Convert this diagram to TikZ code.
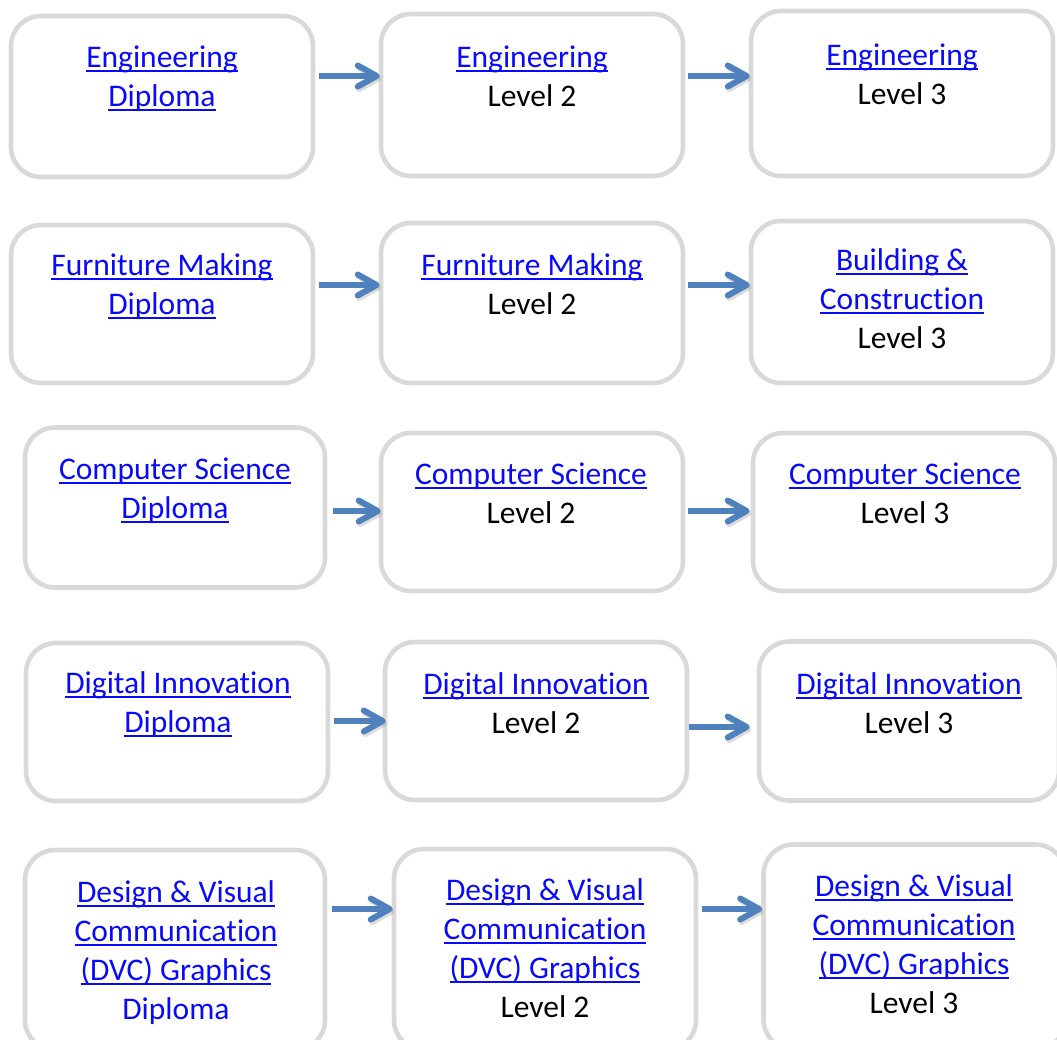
\documentclass[tikz,border=0pt]{standalone}
\usepackage{fontspec}
\setmainfont{Carlito}[Ligatures=NoCommon]
\usetikzlibrary{arrows.meta}
\definecolor{linkblue}{RGB}{10,10,250}
\definecolor{boxgray}{RGB}{217,217,217}
\definecolor{arrowblue}{RGB}{79,129,189}
\newcommand\lnk[1]{{\color{linkblue}\setbox0\hbox{#1}\rlap{\rule[-5.3pt]{\wd0}{1.9pt}}\box0}}
\newcommand\blu[1]{{\color{linkblue}#1}}
\newcommand\lines[1]{\begin{tabular}[t]{@{}c@{}}#1\end{tabular}}
\tikzset{
  pbox/.style={draw=boxgray, fill=white, line width=4.6pt, rounded corners=30pt, inner sep=0pt, rectangle},
  lbl/.style={inner sep=0pt, anchor=base, font=\fontsize{31.5}{39}\selectfont},
  arr/.style={draw=arrowblue, line width=5.5pt, -{Straight Barb[length=19pt,width=21pt,round,line width=6pt]},
    preaction={draw=black!45, opacity=0.3, transform canvas={xshift=1.5pt,yshift=-2.5pt}}}
}
\begin{document}
\begin{tikzpicture}[x=1pt,y=-1pt]
\useasboundingbox (0,0) rectangle (1057,1039);
\clip (0,0) rectangle (1057,1039);
% boxes
\node[pbox, minimum width=302pt, minimum height=161pt] (b11) at (162,96.5) {};
\node[pbox, minimum width=302pt, minimum height=162pt] (b12) at (532,95) {};
\node[pbox, minimum width=302pt, minimum height=165pt] (b13) at (902,93.5) {};
\node[pbox, minimum width=302pt, minimum height=158pt] (b21) at (162,304) {};
\node[pbox, minimum width=302pt, minimum height=160pt] (b22) at (532,303) {};
\node[pbox, minimum width=302pt, minimum height=162pt] (b23) at (902,302) {};
\node[pbox, minimum width=300pt, minimum height=160pt] (b31) at (175,507.5) {};
\node[pbox, minimum width=302pt, minimum height=158pt] (b32) at (532,512) {};
\node[pbox, minimum width=302pt, minimum height=158pt] (b33) at (904,512) {};
\node[pbox, minimum width=302pt, minimum height=158pt] (b41) at (177,722) {};
\node[pbox, minimum width=302pt, minimum height=158pt] (b42) at (536,721) {};
\node[pbox, minimum width=300pt, minimum height=159pt] (b43) at (909,721) {};
\node[pbox, minimum width=300pt, minimum height=200pt] (b51) at (175,950) {};
\node[pbox, minimum width=302pt, minimum height=201pt] (b52) at (545,949.5) {};
\node[pbox, minimum width=302pt, minimum height=205pt] (b53) at (914.5,947) {};
% texts
\node[lbl] (t11) at (162,67) {\lines{\lnk{Engineering}\\\lnk{Diploma}}};
\node[lbl] (t12) at (532,67) {\lines{\lnk{Engineering}\\Level 2}};
\node[lbl] (t13) at (902,65) {\lines{\lnk{Engineering}\\Level 3}};
\node[lbl] (t21) at (162,275) {\lines{\lnk{Furniture Making}\\\lnk{Diploma}}};
\node[lbl] (t22) at (532,275) {\lines{\lnk{Furniture Making}\\Level 2}};
\node[lbl] (t23) at (902,270) {\lines{\lnk{Building \&}\\\lnk{Construction}\\Level 3}};
\node[lbl] (t31) at (175,479) {\lines{\lnk{Computer Science}\\\lnk{Diploma}}};
\node[lbl] (t32) at (531,484) {\lines{\lnk{Computer Science}\\Level 2}};
\node[lbl] (t33) at (905,484) {\lines{\lnk{Computer Science}\\Level 3}};
\node[lbl] (t41) at (178,693) {\lines{\lnk{Digital Innovation}\\\lnk{Diploma}}};
\node[lbl] (t42) at (536,694) {\lines{\lnk{Digital Innovation}\\Level 2}};
\node[lbl] (t43) at (909,694) {\lines{\lnk{Digital Innovation}\\Level 3}};
\node[lbl] (t51) at (176,902) {\lines{\lnk{Design \& Visual}\\\lnk{Communication}\\\lnk{(DVC) Graphics}\\\blu{Diploma}}};
\node[lbl] (t52) at (545,900) {\lines{\lnk{Design \& Visual}\\\lnk{Communication}\\\lnk{(DVC) Graphics}\\Level 2}};
\node[lbl] (t53) at (914,896) {\lines{\lnk{Design \& Visual}\\\lnk{Communication}\\\lnk{(DVC) Graphics}\\Level 3}};
% arrows
\draw[arr, shorten <=4pt, shorten >=-1pt] (b11.east |- 0,76) -- (b12.west |- 0,76);
\draw[arr, shorten <=3pt, shorten >=-1pt] (b12.east |- 0,76) -- (b13.west |- 0,76);
\draw[arr, shorten <=4pt, shorten >=-1pt] (b21.east |- 0,285) -- (b22.west |- 0,285);
\draw[arr, shorten <=3pt, shorten >=-1pt] (b22.east |- 0,285) -- (b23.west |- 0,285);
\draw[arr, shorten <=6pt, shorten >=-2pt] (b31.east |- 0,511) -- (b32.west |- 0,511);
\draw[arr, shorten <=3pt, shorten >=1pt] (b32.east |- 0,511) -- (b33.west |- 0,511);
\draw[arr, shorten <=4pt, shorten >=-3pt] (b41.east |- 0,721) -- (b42.west |- 0,721);
\draw[arr, shorten <=0pt, shorten >=7pt] (b42.east |- 0,727) -- (b43.west |- 0,727);
\draw[arr, shorten <=5pt, shorten >=-1pt] (b51.east |- 0,909) -- (b52.west |- 0,909);
\draw[arr, shorten <=4pt, shorten >=-1pt] (b52.east |- 0,909) -- (b53.west |- 0,909);
\end{tikzpicture}
\end{document}
